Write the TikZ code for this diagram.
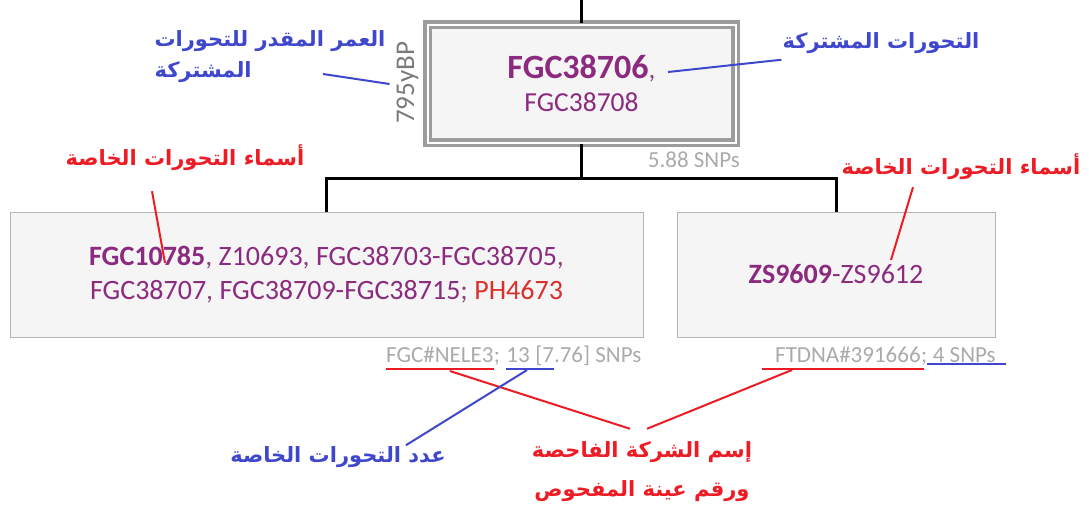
\documentclass[tikz,border=0pt]{standalone}
\usepackage{fontspec}
\setmainfont{Carlito}
\newfontfamily\arabicfont[Script=Arabic]{DejaVu Sans}
\TeXXeTstate=1
\usetikzlibrary{positioning,calc}
\definecolor{snpviolet}{HTML}{8B2A7E}
\definecolor{snpred}{HTML}{D9302C}
\definecolor{snpgray}{HTML}{AAAAAA}
\definecolor{agegray}{HTML}{7A7A7A}
\definecolor{boxfill}{HTML}{F5F5F5}
\definecolor{boxedge}{HTML}{B4B4B4}
\definecolor{rootedge}{HTML}{9C9C9C}
\definecolor{noteblue}{HTML}{3F48CC}
\definecolor{notered}{HTML}{ED1C24}
\newcommand{\sep}[1]{\textcolor{snpviolet!70!gray}{#1}}
\newcommand{\rtl}[1]{\beginR #1\endR}
\tikzset{
    tree/.style={draw=black,line width=3pt},
    clade/.style={draw=boxedge,fill=boxfill,line width=1pt,minimum height=125pt,
        align=center,text=snpviolet,font=\fontsize{28}{34}\selectfont},
    rootclade/.style={clade,draw=rootedge,double=white,double distance=2pt,line width=3.5pt,
        minimum width=308pt,minimum height=118pt,font=\fontsize{27.5}{33}\selectfont},
    info/.style={text=snpgray,inner sep=0pt,font=\fontsize{23}{25}\selectfont},
    bluenote/.style={text=noteblue,inner sep=1pt,font=\arabicfont\bfseries\fontsize{21}{31}\selectfont},
    rednote/.style={bluenote,text=notered},
    blueline/.style={draw=noteblue,line width=2pt},
    redline/.style={draw=notered,line width=2pt},
}
\begin{document}
\begin{tikzpicture}[x=1pt,y=-1pt]
    \useasboundingbox (0,0) rectangle (1089,504);

    % tree of clades
    \node[rootclade] (root) at (581.5,83.5)
        {{\fontsize{34}{34}\selectfont\bfseries FGC38706}\sep{,}\\FGC38708};
    \node[clade,minimum width=633pt] (left) at (326.5,274.5)
        {\textbf{FGC10785}\sep{,} Z10693\sep{,} FGC38703-FGC38705\sep{,}\\
         FGC38707\sep{,} FGC38709-FGC38715\sep{;} \textcolor{snpred}{PH4673}};
    \node[clade,minimum width=318pt] (right) at (836,274.5)
        {\textbf{ZS9609}-ZS9612};
    \coordinate (stem) at (581.5,0);
    \coordinate (fork) at (581.5,178);
    \draw[tree] (stem) -- (root.north);
    \draw[tree] (root.south) -- (fork) -| (left.north);
    \draw[tree] (fork) -| (right.north);

    % ages and snp counts
    \node[info,text=agegray,inner sep=2pt,rotate=90,font=\fontsize{27}{29}\selectfont] (age) at (407.5,83) {795yBP};
    \node[info,anchor=north east] (rootsnp) at (740,152) {5.88 SNPs};
    \node[info,anchor=base west] (kitL) at (386,362) {FGC\#NELE3};
    \node[info,anchor=base west] (semiL) at (kitL.base east) {;\kern6pt};
    \node[info,anchor=base west] (countL) at (semiL.base east) {13};
    \node[info,anchor=base west] (restL) at (countL.base east) {\ [7.76] SNPs};
    \node[info,anchor=base west] (kitR) at (775,362) {FTDNA\#391666};
    \node[info,anchor=base west] (semiR) at (kitR.base east) {;};
    \node[info,anchor=base west] (countR) at (semiR.base east) {\ 4 SNPs};

    % notes
    \node[bluenote] (sharednote) at (881,43) {\rtl{التحورات المشتركة}};
    \node[bluenote,align=left] (agenote) at (270,57)
        {\rtl{العمر المقدر للتحورات}\\\rtl{المشتركة}};
    \node[rednote] (privnoteL) at (185,158) {\rtl{أسماء التحورات الخاصة}};
    \node[rednote] (privnoteR) at (961,167) {\rtl{أسماء التحورات الخاصة}};
    \node[bluenote] (countnote) at (338,457) {\rtl{عدد التحورات الخاصة}};
    \node[rednote,align=center,font=\arabicfont\bfseries\fontsize{21}{39}\selectfont] (kitnote) at (642,472)
        {\rtl{إسم الشركة الفاحصة}\\\rtl{ورقم عينة المفحوص}};

    \coordinate (commatip) at (668,72);
    \coordinate (agetail) at (323,74);
    \coordinate (tipL) at (165,263);
    \coordinate (tipR) at (891,260);

    \draw[blueline] ([yshift=-5pt]sharednote.south west) -- (commatip);
    \draw[blueline] (agetail) -- ($(age.center)+(-18,1)$);
    \draw[redline] ($(privnoteL.south)+(-33,19)$) -- (tipL);
    \draw[redline] ($(privnoteR.south)+(-48,6)$) -- (tipR);

    % underlines
    \draw[redline] ([yshift=-7pt]kitL.base west) -- ([yshift=-7pt]kitL.base east);
    \draw[blueline] ([yshift=-7pt]countL.base west) -- ([xshift=24pt,yshift=-7pt]countL.base east);
    \draw[redline] ([xshift=-13pt,yshift=-7pt]kitR.base west) -- ([xshift=3pt,yshift=-7pt]kitR.base east);
    \draw[blueline] ([yshift=-2pt]countR.base west) -- ([xshift=10pt,yshift=-2pt]countR.base east);
    \draw[redline] ($(kitL.base)+(10,9)$) -- ($(kitnote.north)+(-12,-12)$);
    \draw[redline] ($(kitR.base)+(-56,8)$) -- ($(kitnote.north)+(5,-12)$);
    \draw[blueline] ($(countL.base)+(9,8)$) -- ($(countnote.north east)+(-41,0)$);
\end{tikzpicture}
\end{document}
